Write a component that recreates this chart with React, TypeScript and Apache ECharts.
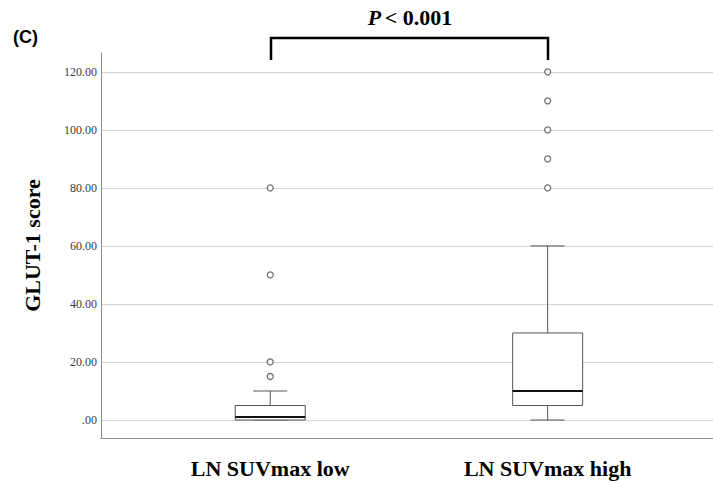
import React, { useEffect, useRef } from "react";
import * as echarts from "echarts";

const categories = ["LN SUVmax low", "LN SUVmax high"];
const categoryPositions = [0, 1];
// [min, Q1, median, Q3, max]
const boxStats = [
  [0, 0, 1, 5, 10],
  [0, 5, 10, 30, 60],
];
const outliersLow = [15, 20, 50, 80];
const outliersHigh = [80, 90, 100, 110, 120];
const yTicks = [0, 20, 40, 60, 80, 100, 120];
const yTickLabels = [".00", "20.00", "40.00", "60.00", "80.00", "100.00", "120.00"];
const pText = "P < 0.001";
const panelLabel = "(C)";
const yAxisTitle = "GLUT-1 score";

export default function App() {
  const ref = useRef<HTMLDivElement>(null);
  useEffect(() => {
    if (!ref.current) return;
    const chart = echarts.init(ref.current, undefined, { renderer: "svg" });
    const serif = "'Liberation Serif', 'DejaVu Serif', serif";
    const boxData = boxStats.map((s, i) => [categoryPositions[i], ...s]);
    const outlierData = [
      ...outliersLow.map((v) => [categoryPositions[0], v]),
      ...outliersHigh.map((v) => [categoryPositions[1], v]),
    ];
    const pParts = pText.split(" ");
    const boxW = 70;
    const capW = 34;
    const renderBox = (_params: any, api: any) => {
      const x = api.value(0);
      const [cx, yMin] = api.coord([x, api.value(1)]);
      const yQ1 = api.coord([x, api.value(2)])[1];
      const yMed = api.coord([x, api.value(3)])[1];
      const yQ3 = api.coord([x, api.value(4)])[1];
      const yMax = api.coord([x, api.value(5)])[1];
      const edge = { stroke: "#555", lineWidth: 1 };
      return {
        type: "group",
        children: [
          { type: "line", shape: { x1: cx, y1: yMax, x2: cx, y2: yQ3 }, style: edge },
          { type: "line", shape: { x1: cx, y1: yQ1, x2: cx, y2: yMin }, style: edge },
          { type: "line", shape: { x1: cx - capW / 2, y1: yMax, x2: cx + capW / 2, y2: yMax }, style: edge },
          { type: "line", shape: { x1: cx - capW / 2, y1: yMin, x2: cx + capW / 2, y2: yMin }, style: edge },
          {
            type: "rect",
            shape: { x: cx - boxW / 2, y: yQ3, width: boxW, height: yQ1 - yQ3 },
            style: { fill: "#fff", stroke: "#555", lineWidth: 1 },
          },
          {
            type: "line",
            shape: { x1: cx - boxW / 2, y1: yMed, x2: cx + boxW / 2, y2: yMed },
            style: { stroke: "#111", lineWidth: 2 },
          },
        ],
      };
    };
    chart.setOption({
      animation: false,
      backgroundColor: "#ffffff",
      grid: { left: 101, right: 0, top: 53, bottom: 46, containLabel: false },
      xAxis: {
        type: "value",
        min: -0.61,
        max: 1.596,
        axisLine: { show: true, onZero: false, lineStyle: { color: "#8c8c8c", width: 1 } },
        axisTick: { show: false },
        splitLine: { show: false },
        axisLabel: {
          customValues: categoryPositions,
          formatter: (v: number) => categories[Math.round(v)] ?? "",
          fontFamily: serif,
          fontWeight: "bold",
          fontSize: 22,
          color: "#000",
          margin: 19,
        },
      },
      yAxis: {
        type: "value",
        min: -6.2,
        max: 126.5,
        name: yAxisTitle,
        nameLocation: "middle",
        nameGap: 58,
        nameTextStyle: { fontFamily: serif, fontWeight: "bold", fontSize: 22, color: "#000" },
        axisLine: { show: true, onZero: false, lineStyle: { color: "#8c8c8c", width: 1 } },
        axisTick: { show: false, customValues: yTicks },
        splitLine: { show: true, lineStyle: { color: "#d4d4d4", width: 1 } },
        axisLabel: {
          customValues: yTicks,
          formatter: (v: number) => yTickLabels[yTicks.indexOf(v)] ?? "",
          fontFamily: serif,
          fontSize: 12,
          color: "#3a3a3a",
          margin: 4,
        },
      },
      series: [
        {
          type: "custom",
          data: boxData,
          encode: { x: 0, y: [1, 2, 3, 4, 5] },
          renderItem: renderBox,
          clip: false,
        },
        {
          type: "scatter",
          data: outlierData,
          symbol: "circle",
          symbolSize: 6,
          itemStyle: { color: "#ffffff", borderColor: "#444", borderWidth: 1.2 },
          z: 5,
        },
      ],
      graphic: [
        {
          type: "text",
          left: 13,
          top: 28,
          style: { text: panelLabel, font: "bold 18px 'Liberation Sans', Arial, sans-serif", fill: "#000" },
        },
        {
          type: "polyline",
          shape: { points: [[271, 60], [271, 38], [548, 38], [548, 60]] },
          style: { stroke: "#000", lineWidth: 2.5, fill: null },
        },
        {
          type: "text",
          x: 410,
          y: 17,
          style: {
            text: `{i|${pParts[0]}} {n|${pParts.slice(1).join(" ")}}`,
            align: "center",
            verticalAlign: "middle",
            rich: {
              i: { font: `italic bold 22px ${serif}`, fill: "#000" },
              n: { font: `bold 22px ${serif}`, fill: "#000" },
            },
          },
        },
      ],
    });
    return () => chart.dispose();
  }, []);
  return <div ref={ref} style={{ width: 713, height: 484, position: "absolute", left: 0, top: 0 }} />;
}
